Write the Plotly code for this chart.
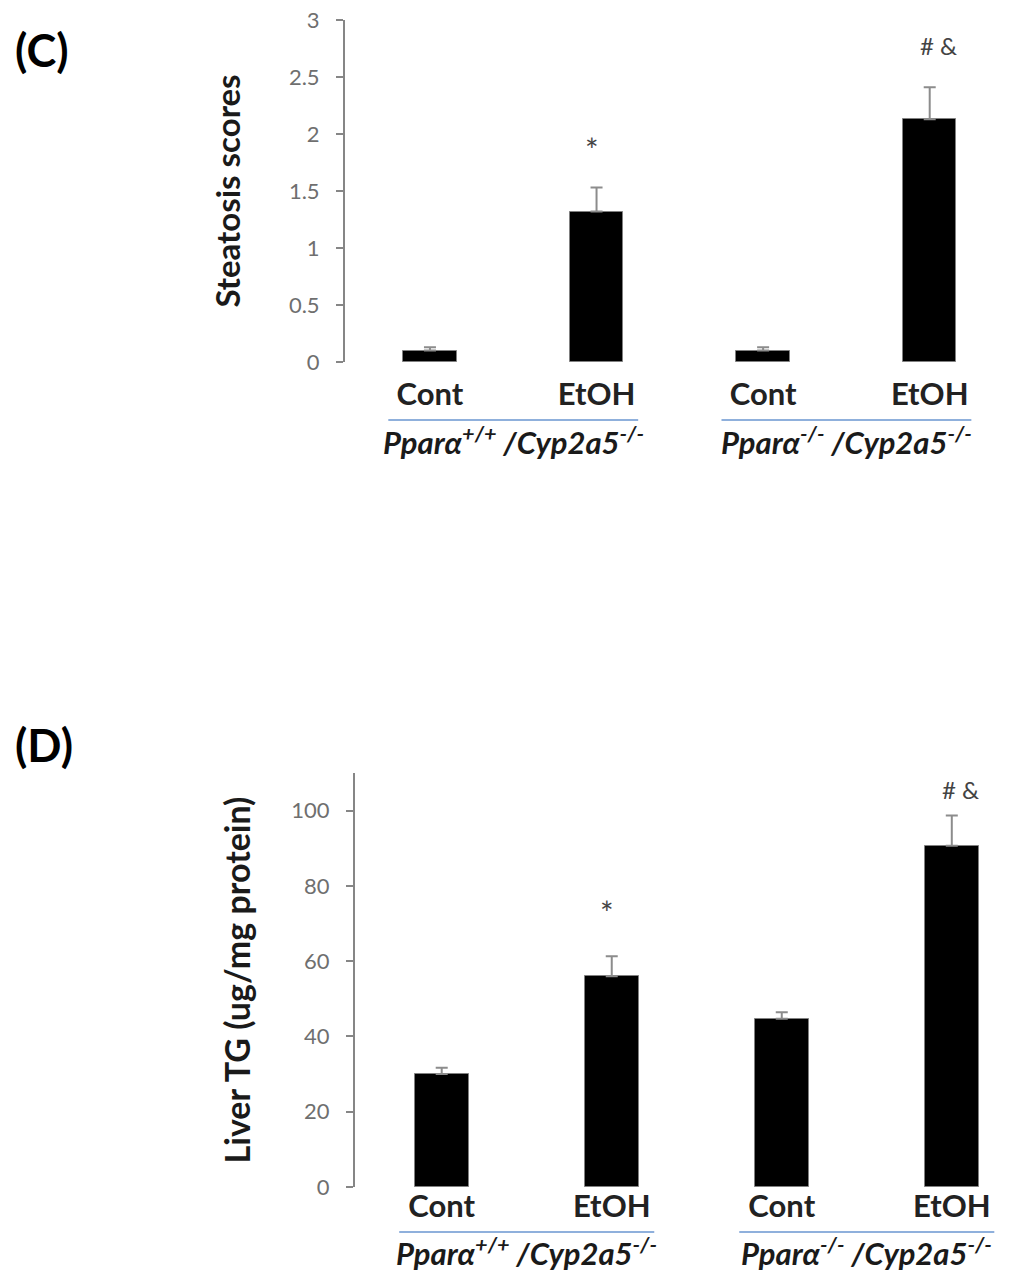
import plotly.graph_objects as go

# ---- data ----
categories = ["Cont", "EtOH", "Cont", "EtOH"]
group_labels = ["<b><i>Pparα<sup>+/+</sup> /Cyp2a5<sup>-/-</sup></i></b>",
                "<b><i>Pparα<sup>-/-</sup> /Cyp2a5<sup>-/-</sup></i></b>"]
group_centers = [0.5, 2.5]

steatosis = [0.10, 1.32, 0.10, 2.13]
steatosis_err = [0.03, 0.21, 0.03, 0.28]
steatosis_sig = ["", "*", "", "# &"]
steatosis_sig_y = [None, 1.86, None, 2.78]

liver_tg = [30.0, 56.0, 44.7, 90.7]
liver_tg_err = [1.7, 5.3, 1.7, 8.0]
liver_tg_sig = ["", "*", "", "# &"]
liver_tg_sig_y = [None, 73.0, None, 105.5]

top_ticks = [0, 0.5, 1, 1.5, 2, 2.5, 3]
top_ticktext = ["0", "0.5", "1", "1.5", "2", "2.5", "3"]
bot_ticks = [0, 20, 40, 60, 80, 100]

# page offset (body margin) compensation
OFF = 8
FW, FH = 1013 - OFF, 1271 - OFF
FONT = "Lato"


def px(x):
    return (x - OFF) / FW


def py(y):
    return 1 - (y - OFF) / FH


xpos = list(range(len(categories)))
zeros = [0] * len(categories)

fig = go.Figure()
fig.add_trace(go.Bar(x=xpos, y=steatosis, width=0.32,
                     marker=dict(color="black", line=dict(color="#808080", width=1)),
                     error_y=dict(type="data", symmetric=False, array=steatosis_err,
                                  arrayminus=zeros, visible=True,
                                  color="#8c8c8c", thickness=2, width=6),
                     xaxis="x", yaxis="y", showlegend=False))
fig.add_trace(go.Bar(x=xpos, y=liver_tg, width=0.32,
                     marker=dict(color="black", line=dict(color="#808080", width=1)),
                     error_y=dict(type="data", symmetric=False, array=liver_tg_err,
                                  arrayminus=zeros, visible=True,
                                  color="#8c8c8c", thickness=2, width=6),
                     xaxis="x2", yaxis="y2", showlegend=False))

xcommon = dict(showline=False, showgrid=False, zeroline=False, automargin=False,
               tickmode="array", tickvals=xpos, ticktext=categories,
               ticks="outside", tickcolor="rgba(0,0,0,0)", ticklabeloverflow="allow",
               tickfont=dict(family=FONT, size=31, color="#222222", weight="bold"))
ycommon = dict(showline=True, linecolor="#868686", linewidth=2, showgrid=False,
               zeroline=False, automargin=False, ticks="outside", ticklen=7,
               tickcolor="#868686", tickwidth=2, ticklabelstandoff=12,
               ticklabeloverflow="allow",
               tickfont=dict(family=FONT, size=22, color="#6f6f6f"))

fig.update_layout(
    width=FW, height=FH, margin=dict(l=0, r=0, t=0, b=0, autoexpand=False),
    paper_bgcolor="white", plot_bgcolor="white", bargap=0,
    xaxis=dict(domain=[px(345), 1.0], range=[-0.51, 3.5], anchor="y", ticklen=5,
               **xcommon),
    yaxis=dict(domain=[py(362), py(20)], range=[0, 3], anchor="x",
               tickmode="array", tickvals=top_ticks, ticktext=top_ticktext,
               title=dict(text="<b>Steatosis scores</b>", standoff=38,
                         font=dict(family=FONT, size=33, color="#1a1a1a")),
               **ycommon),
    xaxis2=dict(domain=[px(355), 1.0], range=[-0.51, 3.36], anchor="y2", ticklen=0,
                ticklabelstandoff=-8, **xcommon),
    yaxis2=dict(domain=[py(1187), py(773)], range=[0, 110], anchor="x2",
                tickmode="array", tickvals=bot_ticks,
                title=dict(text="<b>Liver TG (ug/mg protein)</b>", standoff=30,
                           font=dict(family=FONT, size=34, color="#1a1a1a")),
                **ycommon),
)

annotations = []
shapes = []
for xa, ya, sig, sig_y, line_y, lab_y in [
    ("x", "y", steatosis_sig, steatosis_sig_y, py(420), py(441)),
    ("x2", "y2", liver_tg_sig, liver_tg_sig_y, py(1232), py(1251)),
]:
    for i, (s, sy) in enumerate(zip(sig, sig_y)):
        if s:
            multi = len(s) > 1
            annotations.append(dict(x=i + (0.05 if multi else -0.03), y=sy,
                                    xref=xa, yref=ya, text=s, showarrow=False,
                                    font=dict(family=FONT, size=24 if multi else 32,
                                              color="#444444")))
    for gc, gl in zip(group_centers, group_labels):
        shapes.append(dict(type="line", xref=xa, yref="paper", x0=gc - 0.75, x1=gc + 0.75,
                           y0=line_y, y1=line_y, line=dict(color="#8fb0dc", width=2)))
        annotations.append(dict(x=gc, y=lab_y, xref=xa, yref="paper", text=gl,
                                showarrow=False, yanchor="middle",
                                font=dict(family=FONT, size=31, color="#1a1a1a")))

annotations.append(dict(x=px(13), y=py(50), xref="paper", yref="paper",
                        text="<b>(C)</b>", showarrow=False, xanchor="left", yanchor="middle",
                        font=dict(family=FONT, size=45, color="black")))
annotations.append(dict(x=px(13), y=py(745), xref="paper", yref="paper",
                        text="<b>(D)</b>", showarrow=False, xanchor="left", yanchor="middle",
                        font=dict(family=FONT, size=45, color="black")))

fig.update_layout(annotations=annotations, shapes=shapes)
fig.write_html("out.html")
